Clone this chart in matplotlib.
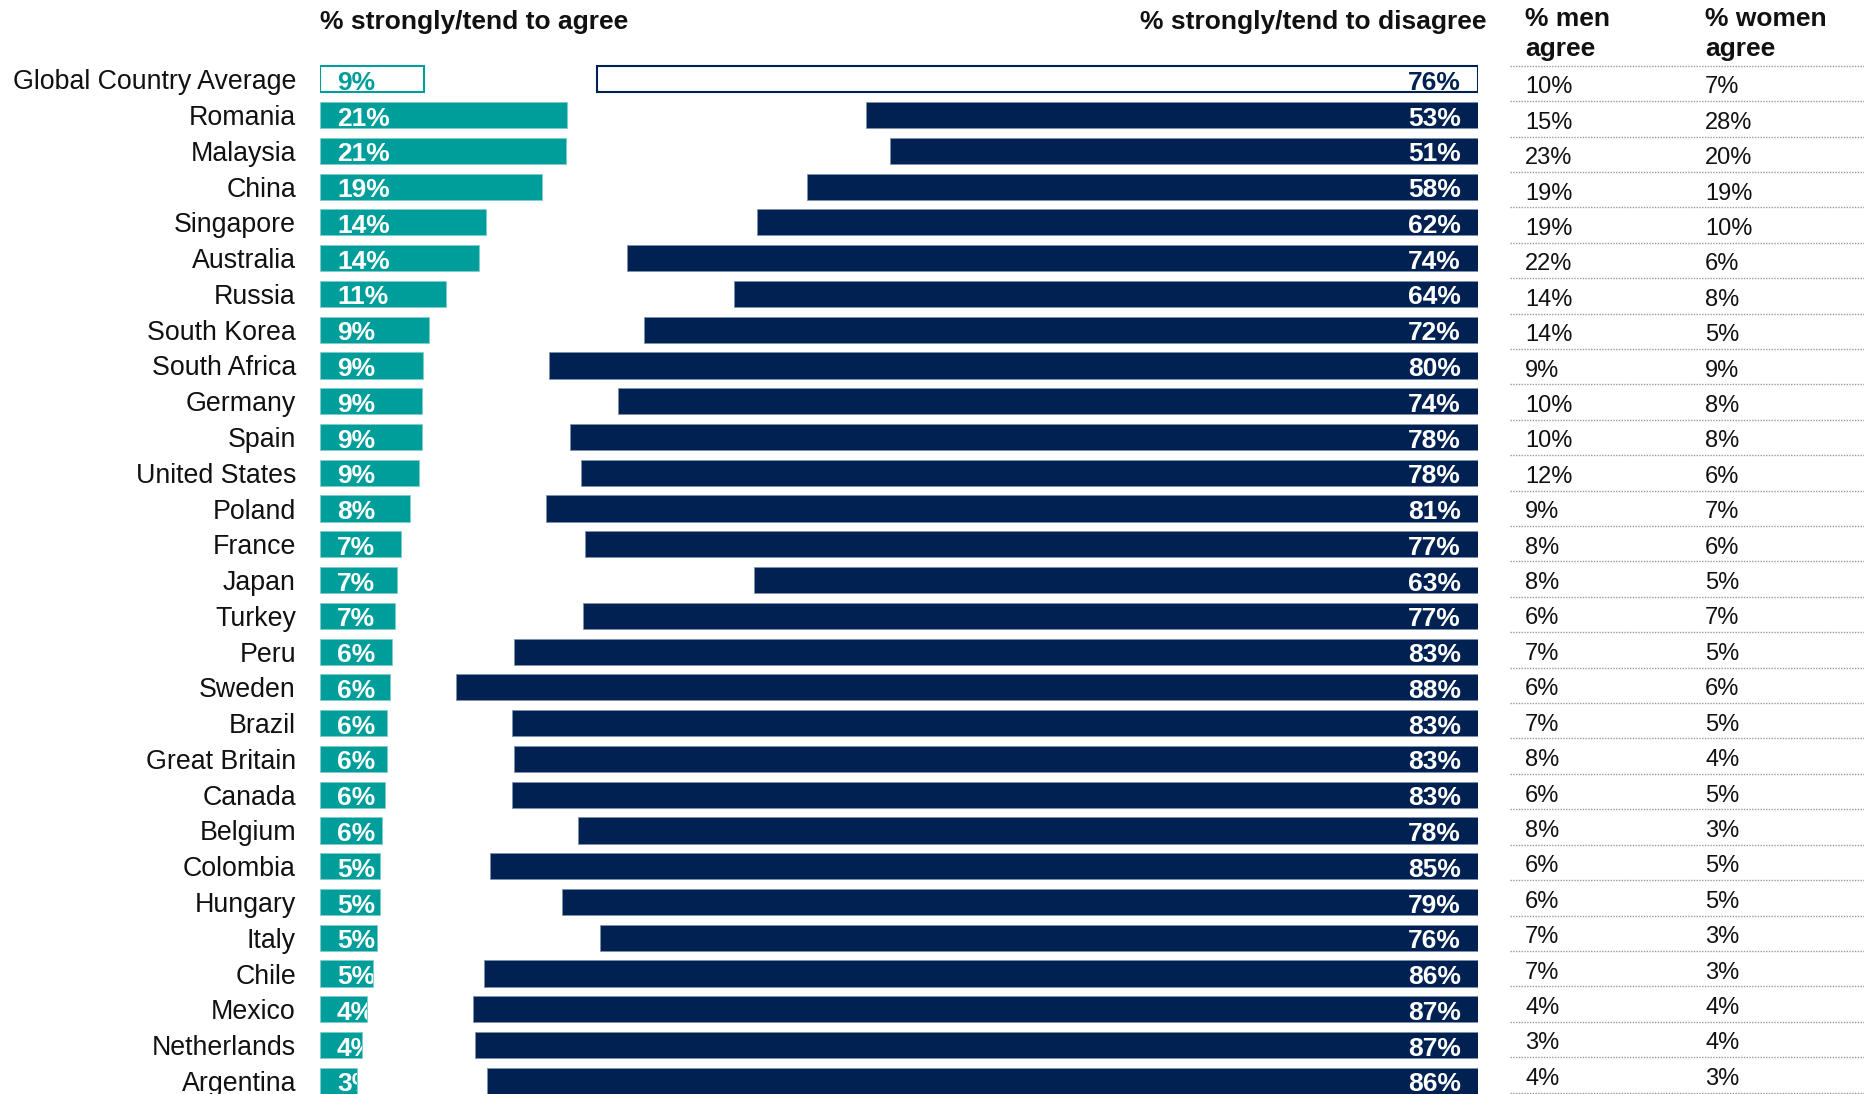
import matplotlib
matplotlib.use("Agg")
import matplotlib.pyplot as plt

# Data
countries = ["Global Country Average", "Romania", "Malaysia", "China", "Singapore",
             "Australia", "Russia", "South Korea", "South Africa", "Germany", "Spain",
             "United States", "Poland", "France", "Japan", "Turkey", "Peru", "Sweden",
             "Brazil", "Great Britain", "Canada", "Belgium", "Colombia", "Hungary",
             "Italy", "Chile", "Mexico", "Netherlands", "Argentina"]

# bar lengths (estimated, unrounded) and the printed labels
agree = [9.0, 21.4, 21.3, 19.2, 14.4, 13.8, 10.9, 9.4, 8.9, 8.8, 8.8, 8.6, 7.8, 7.0,
         6.7, 6.5, 6.2, 6.1, 5.8, 5.8, 5.6, 5.4, 5.2, 5.2, 4.9, 4.6, 4.1, 3.6, 3.2]
agree_lbl = [9, 21, 21, 19, 14, 14, 11, 9, 9, 9, 9, 9, 8, 7, 7, 7, 6, 6, 6, 6, 6, 6,
             5, 5, 5, 5, 4, 4, 3]
disagree = [76.3, 53.0, 50.9, 58.1, 62.4, 73.7, 64.4, 72.2, 80.4, 74.5, 78.6, 77.7,
            80.7, 77.3, 62.7, 77.5, 83.5, 88.5, 83.6, 83.5, 83.6, 77.9, 85.5, 79.3,
            76.0, 86.1, 87.0, 86.8, 85.8]
disagree_lbl = [76, 53, 51, 58, 62, 74, 64, 72, 80, 74, 78, 78, 81, 77, 63, 77, 83,
                88, 83, 83, 83, 78, 85, 79, 76, 86, 87, 87, 86]
men = [10, 15, 23, 19, 19, 22, 14, 14, 9, 10, 10, 12, 9, 8, 8, 6, 7, 6, 7, 8, 6, 8,
       6, 6, 7, 7, 4, 3, 4]
women = [7, 28, 20, 19, 10, 6, 8, 5, 9, 8, 8, 6, 7, 6, 5, 7, 5, 6, 5, 4, 5, 3, 5, 5,
         3, 3, 4, 4, 3]

TEAL = "#009e9a"
NAVY = "#002152"

W, H = 1864, 1094
PX = 11.55                 # pixels per percentage point
ROW0, ROW = 79.3, 35.77    # first bar row centre and row pitch (px)
TAB0, TAB = 65.7, 35.41    # first table rule and table row pitch (px)

plt.rcParams['font.family'] = ['Liberation Sans', 'DejaVu Sans']

fig = plt.figure(figsize=(W / 100, H / 100), dpi=100)

ax_a = fig.add_axes([320 / W, 0, 30 * PX / W, 1])
ax_d = fig.add_axes([(1478 - 95 * PX) / W, 0, 95 * PX / W, 1])
ax_t = fig.add_axes([1510 / W, 0, 1 - 1510 / W, 1])

ys = list(range(len(countries)))
bar_lim = ((H - ROW0) / ROW, -ROW0 / ROW)

# agree bars
ax_a.set_xlim(0, 30)
ax_a.set_ylim(*bar_lim)
g_a = ax_a.barh(ys[:1], agree[:1], height=0.73, facecolor="white",
                edgecolor=TEAL, linewidth=1.5)
b_a = ax_a.barh(ys[1:], agree[1:], height=0.73, color=TEAL,
                edgecolor="#7fcdca", linewidth=0.6)
for rect, lbl, y in zip(list(g_a) + list(b_a), agree_lbl, ys):
    t = ax_a.annotate(f"{lbl}%", xy=(0, y), xytext=(12.2, -7.6),
                      textcoords="offset points", ha="left", va="baseline",
                      fontsize=19, fontweight="bold",
                      color=TEAL if y == 0 else "white")
    t.set_clip_path(rect)

ax_a.set_yticks(ys)
ax_a.set_yticklabels(countries, fontsize=19.3, color="#111111")
ax_a.tick_params(axis="y", length=0, pad=17.3)
ax_a.set_xticks([])
for s in ax_a.spines.values():
    s.set_visible(False)
ax_a.patch.set_visible(False)

# disagree bars, growing leftwards from a common right edge
ax_d.set_xlim(95, 0)
ax_d.set_ylim(*bar_lim)
g_d = ax_d.barh(ys[:1], disagree[:1], height=0.73, facecolor="white",
                edgecolor=NAVY, linewidth=1.5)
b_d = ax_d.barh(ys[1:], disagree[1:], height=0.73, color=NAVY,
                edgecolor="#7f90b0", linewidth=0.6)
for lbl, y in zip(disagree_lbl, ys):
    ax_d.annotate(f"{lbl}%", xy=(0, y), xytext=(-12.2, -7.6),
                  textcoords="offset points", ha="right", va="baseline",
                  fontsize=19, fontweight="bold",
                  color=NAVY if y == 0 else "white")
ax_d.axis("off")

# men / women table
ax_t.set_xlim(0, 1)
ax_t.set_ylim((H - TAB0) / TAB, -TAB0 / TAB)
for k in range(len(countries) + 1):
    ax_t.axhline(k, color="#9a9a9a", linewidth=1, linestyle=(0, (1, 1)))
x_men = (1525 - 1510) / (W - 1510)
x_women = (1705 - 1510) / (W - 1510)
for k, (m, w) in enumerate(zip(men, women)):
    ax_t.text(x_men, k + 0.78, f"{m}%", fontsize=17, va="baseline", color="#111111")
    ax_t.text(x_women, k + 0.78, f"{w}%", fontsize=17, va="baseline", color="#111111")
ax_t.axis("off")


def fy(px):
    return 1 - px / H


fig.text(320 / W, fy(29.5), "% strongly/tend to agree", fontsize=19,
         fontweight="bold", va="baseline", color="#111111")
fig.text(1487 / W, fy(29.5), "% strongly/tend to disagree", fontsize=19,
         fontweight="bold", va="baseline", ha="right", color="#111111")
for x, word in [(1525, "% men"), (1705, "% women")]:
    fig.text(x / W, fy(25.5), word, fontsize=19, fontweight="bold",
             va="baseline", color="#111111")
    fig.text(x / W, fy(56), "agree", fontsize=19, fontweight="bold",
             va="baseline", color="#111111")

fig.savefig("out.png", dpi=100)
